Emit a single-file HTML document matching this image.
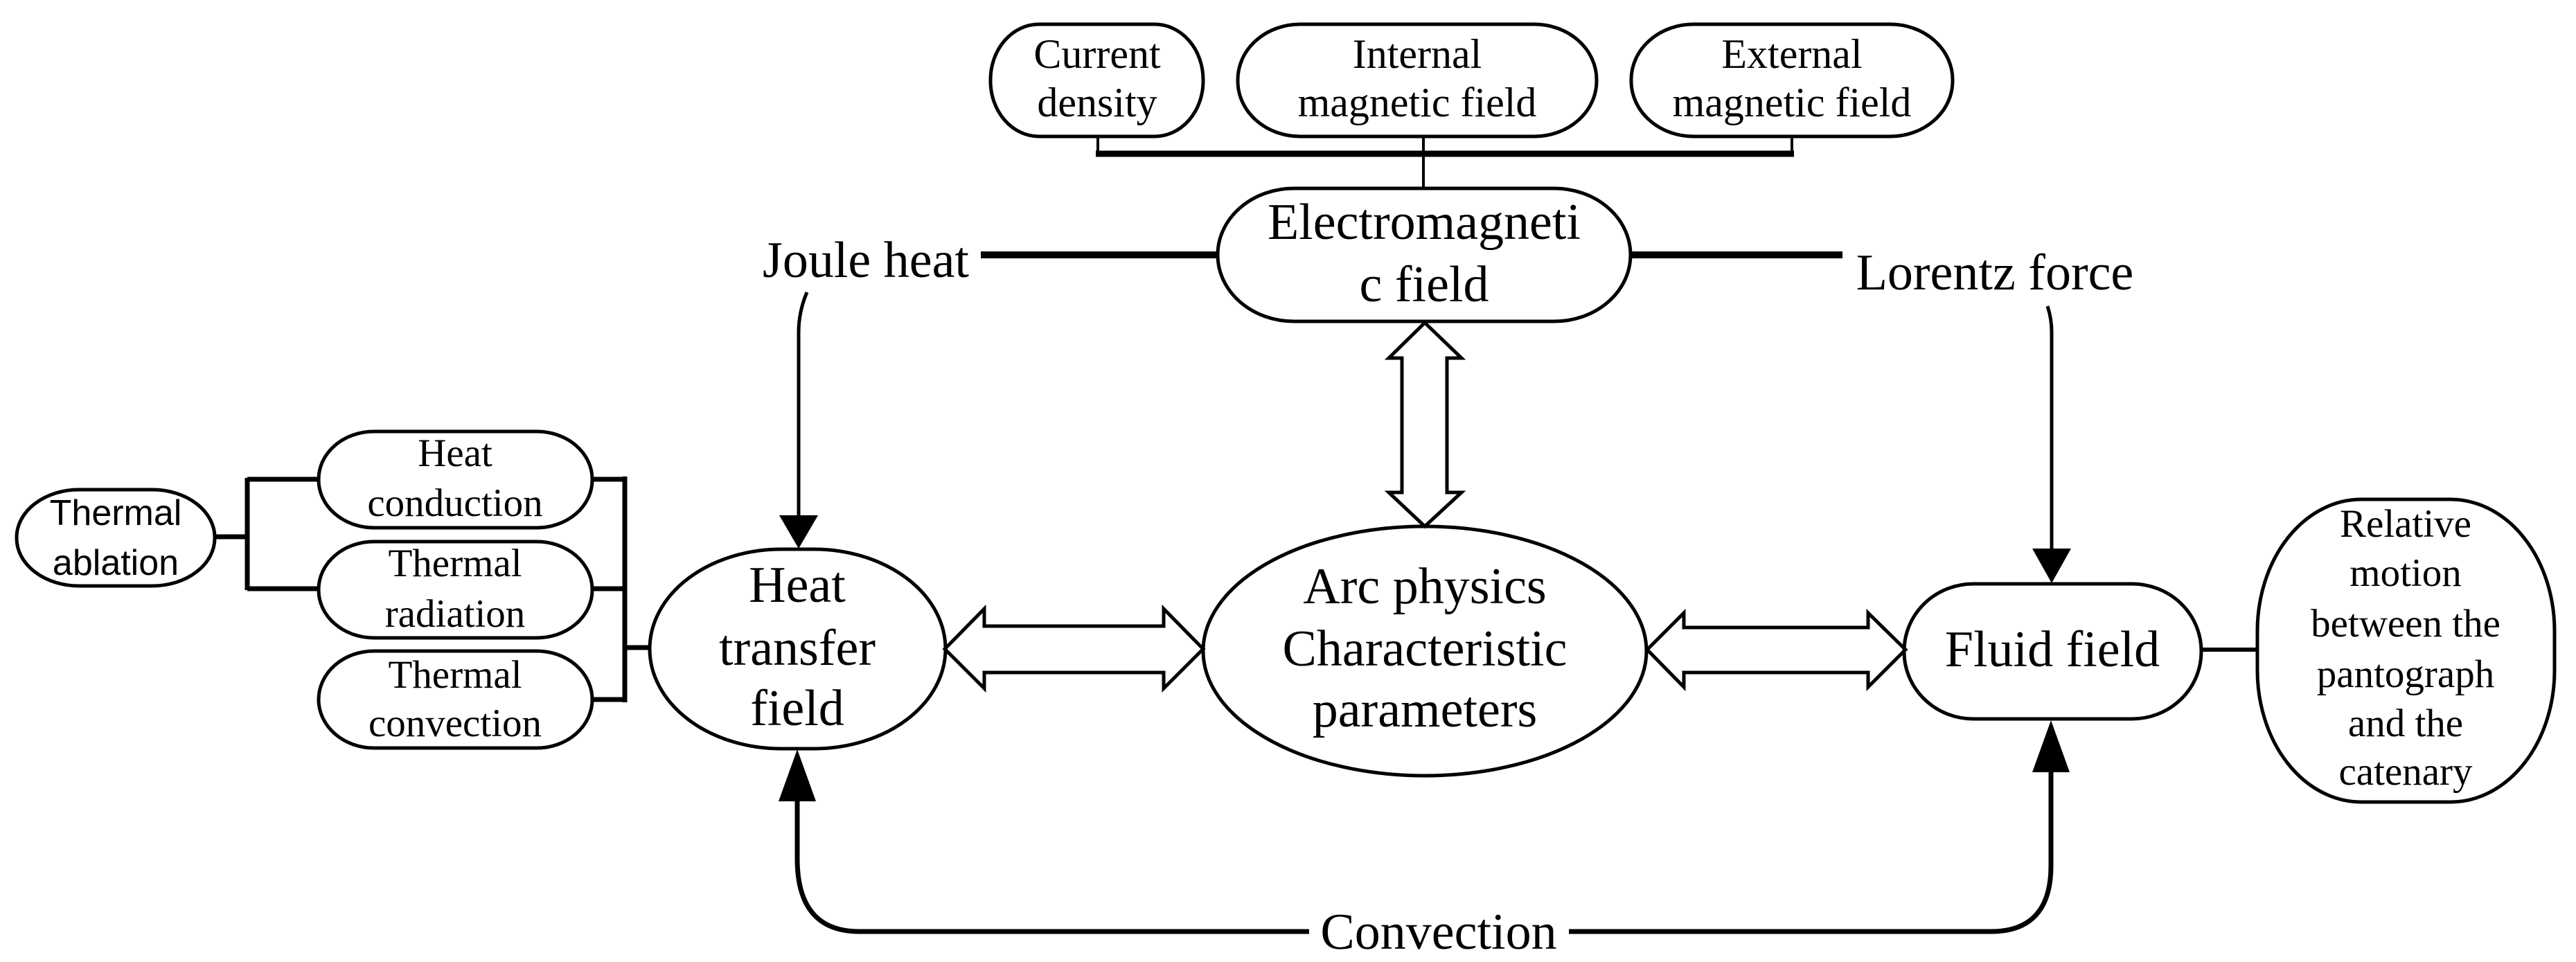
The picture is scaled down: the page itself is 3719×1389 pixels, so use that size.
<!DOCTYPE html>
<html><head><meta charset="utf-8"><style>
html,body{margin:0;padding:0;background:#fff;}
svg{display:block;}
text{font-family:"Liberation Serif",serif;fill:#000;text-anchor:middle;}
.s{font-family:"Liberation Sans",sans-serif;}
</style></head><body>
<svg width="3719" height="1389" viewBox="0 0 3719 1389" xmlns="http://www.w3.org/2000/svg">
<g fill="none" stroke="#000" stroke-width="5">
<!-- top boxes -->
<rect x="1430" y="35" width="307" height="162" rx="70" ry="80"/>
<rect x="1787" y="35" width="518" height="162" rx="90" ry="80"/>
<rect x="2355" y="35" width="464" height="162" rx="90" ry="80"/>
<!-- bracket -->
<path d="M1585 197 V222 M2055 197 V272 M2587 197 V222" stroke-width="4"/>
<line x1="1582" y1="222" x2="2590" y2="222" stroke-width="9"/>
<!-- EM box -->
<rect x="1758" y="272" width="596" height="192" rx="110" ry="96"/>
<line x1="1416" y1="368" x2="1758" y2="368" stroke-width="10"/>
<line x1="2354" y1="368" x2="2660" y2="368" stroke-width="10"/>
<!-- Joule arrow -->
<path d="M1165 422 Q1153 450 1153 480 V750" stroke-width="5"/>
<!-- Lorentz arrow -->
<path d="M2956 442 Q2962 460 2962 480 V800" stroke-width="5"/>
<!-- heat transfer -->
<rect x="938" y="793" width="427" height="288" rx="190" ry="144"/>
<!-- arc circle -->
<ellipse cx="2057" cy="940" rx="320" ry="180"/>
<!-- fluid -->
<rect x="2749" y="843" width="429" height="195" rx="100" ry="97"/>
<!-- relative -->
<rect x="3259" y="721" width="429" height="437" rx="150" ry="190"/>
<line x1="3178" y1="938" x2="3259" y2="938" stroke-width="6"/>
<!-- left group -->
<rect x="24" y="707" width="286" height="139" rx="90" ry="69"/>
<rect x="460" y="623" width="395" height="139" rx="80" ry="69"/>
<rect x="460" y="782" width="395" height="139" rx="80" ry="69"/>
<rect x="460" y="940" width="395" height="140" rx="80" ry="70"/>
<path d="M310 775 H357 M357 690 V852 M357 692 H460 M357 850 H460" stroke-width="7"/>
<path d="M855 692 H902 M855 850 H902 M855 1010 H902 M902 688 V1014 M902 935 H938" stroke-width="7"/>
<!-- convection loop -->
<path d="M1151 1150 V1240 Q1151 1345 1241 1345 H1890 M2265 1345 H2874 Q2961 1345 2961 1250 V1110" stroke-width="7"/>
<!-- hollow double arrows -->
<path d="M1364 937 L1421 879 V904 H1680 V879 L1737 937 L1680 994 V971 H1421 V994 Z" stroke-width="5" stroke-linejoin="miter"/>
<path d="M2378 938 L2431 885 V906 H2697 V885 L2751 938 L2697 992 V971 H2431 V992 Z" stroke-width="5"/>
<path d="M2057 466 L2110 517 H2089 V711 H2110 L2057 760 L2005 711 H2024 V517 H2005 Z" stroke-width="5"/>
</g>
<!-- filled arrowheads -->
<g fill="#000">
<polygon points="1125,744 1181,744 1153,792"/>
<polygon points="2934,792 2990,792 2962,842"/>
<polygon points="1124,1157 1178,1157 1151,1082"/>
<polygon points="2934,1115 2988,1115 2961,1040"/>
</g>
<!-- text -->
<g font-size="60">
<text x="1584" y="98">Current</text><text x="1584" y="168">density</text>
<text x="2046" y="98">Internal</text><text x="2046" y="168">magnetic field</text>
<text x="2587" y="98">External</text><text x="2587" y="168">magnetic field</text>
</g>
<g font-size="74">
<text x="2056" y="345">Electromagneti</text><text x="2056" y="435">c field</text>
<text x="1250" y="400">Joule heat</text>
<text x="2880" y="418">Lorentz force</text>
<text x="1151" y="869">Heat</text><text x="1151" y="960">transfer</text><text x="1151" y="1047">field</text>
<text x="2057" y="871">Arc physics</text><text x="2057" y="961">Characteristic</text><text x="2057" y="1049">parameters</text>
<text x="2963" y="962">Fluid field</text>
<text x="2077" y="1370">Convection</text>
</g>
<g font-size="57">
<text x="3473" y="775">Relative</text><text x="3473" y="846">motion</text><text x="3473" y="919">between the</text>
<text x="3473" y="992">pantograph</text><text x="3473" y="1063">and the</text><text x="3473" y="1133">catenary</text>
<text x="657" y="673">Heat</text><text x="657" y="745">conduction</text>
<text x="657" y="832">Thermal</text><text x="657" y="905">radiation</text>
<text x="657" y="993">Thermal</text><text x="657" y="1063">convection</text>
</g>
<g font-size="52" class="s">
<text class="s" x="167" y="758">Thermal</text><text class="s" x="167" y="830">ablation</text>
</g>
</svg>
</body></html>
